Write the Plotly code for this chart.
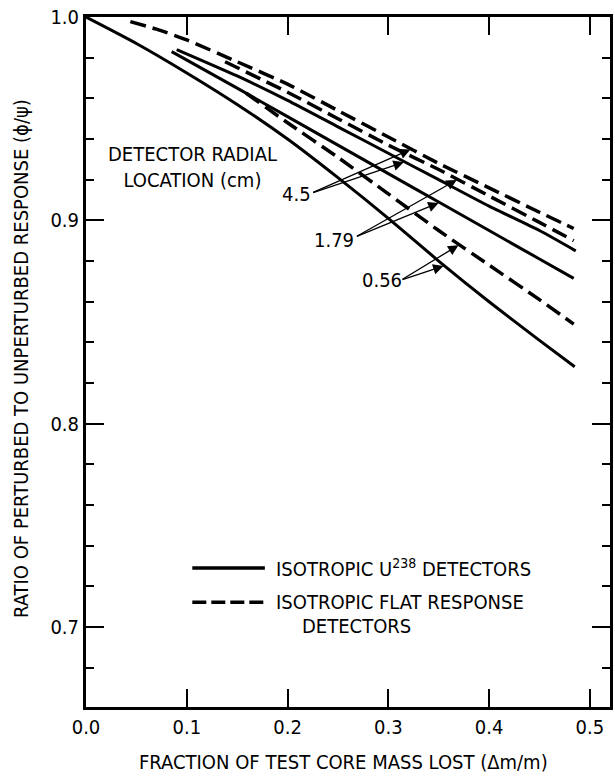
import numpy as np
import plotly.graph_objects as go

# ---------------- data ----------------
# Isotropic U238 detectors (solid lines), detector radial location in cm
x_u238_056 = [0.0, 0.05, 0.10, 0.15, 0.20, 0.25, 0.30, 0.35, 0.40, 0.45, 0.485]
y_u238_056 = [1.0, 0.987, 0.9725, 0.957, 0.940, 0.921, 0.901, 0.880, 0.860, 0.841, 0.828]
x_u238_179 = [0.085, 0.15, 0.20, 0.25, 0.30, 0.35, 0.40, 0.45, 0.484]
y_u238_179 = [0.983, 0.965, 0.951, 0.937, 0.923, 0.909, 0.895, 0.881, 0.8715]
x_u238_45 = [0.09, 0.15, 0.20, 0.25, 0.30, 0.35, 0.40, 0.45, 0.486]
y_u238_45 = [0.984, 0.971, 0.959, 0.946, 0.933, 0.920, 0.907, 0.895, 0.885]
# Isotropic flat response detectors (dashed lines)
x_flat_056 = [0.159, 0.20, 0.25, 0.30, 0.35, 0.40, 0.45, 0.484]
y_flat_056 = [0.9625, 0.948, 0.931, 0.913, 0.895, 0.878, 0.861, 0.849]
x_flat_179 = [0.138, 0.20, 0.25, 0.30, 0.35, 0.40, 0.45, 0.484]
y_flat_179 = [0.978, 0.963, 0.950, 0.937, 0.925, 0.912, 0.899, 0.890]
x_flat_45 = [0.044, 0.07, 0.10, 0.15, 0.20, 0.25, 0.30, 0.35, 0.40, 0.45, 0.484]
y_flat_45 = [0.9977, 0.994, 0.9887, 0.978, 0.967, 0.954, 0.941, 0.928, 0.916, 0.904, 0.896]

y_ticks = [0.7, 0.8, 0.9, 1.0]
y_tick_text = ["0.7", "0.8", "0.9", "1.0"]

location_labels = ["4.5", "1.79", "0.56"]

FONT = "DejaVu Sans Condensed, Liberation Sans Narrow, sans-serif"
FS = 20
SOLID_W = 3
DASH_W = 3.5
DASH = "16px,7px"

fig = go.Figure()

solid_sets = [(x_u238_056, y_u238_056), (x_u238_179, y_u238_179), (x_u238_45, y_u238_45)]
flat_sets = [(x_flat_056, y_flat_056), (x_flat_179, y_flat_179), (x_flat_45, y_flat_45)]

for xs, ys in solid_sets:
    fig.add_trace(go.Scatter(x=xs, y=ys, mode="lines",
                             line=dict(color="black", width=SOLID_W, shape="spline", smoothing=0.6),
                             hoverinfo="skip"))
for xs, ys in flat_sets:
    fig.add_trace(go.Scatter(x=xs, y=ys, mode="lines",
                             line=dict(color="black", width=DASH_W, dash=DASH, shape="spline", smoothing=0.6),
                             hoverinfo="skip"))

annotations = []

# location labels with arrows pointing at the curves
label_pos = {"4.5": (0.2086, 0.9129), "1.79": (0.2465, 0.8903), "0.56": (0.2934, 0.8706)}
tail_pos = {"4.5": (0.2239, 0.9134), "1.79": (0.2673, 0.8918), "0.56": (0.3126, 0.8706)}
tip_x = {"4.5": (0.3228, 0.3163), "1.79": (0.3688, 0.3508), "0.56": (0.3705, 0.3557)}
curve_pair = {"4.5": ((x_flat_45, y_flat_45), (x_u238_45, y_u238_45)),
              "1.79": ((x_flat_179, y_flat_179), (x_u238_179, y_u238_179)),
              "0.56": ((x_flat_056, y_flat_056), (x_u238_056, y_u238_056))}

for lab in location_labels:
    lx, ly = label_pos[lab]
    annotations.append(dict(x=lx, y=ly, xref="x", yref="y", text=lab, showarrow=False,
                            font=dict(family=FONT, size=FS, color="black"),
                            xanchor="center", yanchor="middle"))
    tx, ty = tail_pos[lab]
    for (cx, cy), px in zip(curve_pair[lab], tip_x[lab]):
        py = float(np.interp(px, cx, cy))
        annotations.append(dict(x=px, y=py, xref="x", yref="y", ax=tx, ay=ty,
                                axref="x", ayref="y", text="", showarrow=True,
                                arrowhead=2, arrowsize=1.6, arrowwidth=1.3,
                                arrowcolor="black", standoff=1))

# "DETECTOR RADIAL LOCATION (cm)"
annotations.append(dict(x=0.1055, y=0.926, xref="x", yref="y",
                        text="DETECTOR RADIAL<br>LOCATION (cm)", showarrow=False, align="center",
                        font=dict(family=FONT, size=FS, color="black"),
                        xanchor="center", yanchor="middle"))

# legend (manual, to reproduce the long line samples)
shapes = [
    dict(type="line", xref="x", yref="y", x0=0.1055, x1=0.1775, y0=0.729, y1=0.729,
         line=dict(color="black", width=SOLID_W + 0.5)),
    dict(type="line", xref="x", yref="y", x0=0.1055, x1=0.1775, y0=0.7122, y1=0.7122,
         line=dict(color="black", width=SOLID_W + 0.5, dash="14px,5px")),
]
annotations.append(dict(x=0.1864, y=0.729, xref="x", yref="y",
                        text="ISOTROPIC U<sup>238</sup> DETECTORS", showarrow=False,
                        font=dict(family=FONT, size=FS, color="black"),
                        xanchor="left", yanchor="middle"))
annotations.append(dict(x=0.1864, y=0.7122, xref="x", yref="y",
                        text="ISOTROPIC FLAT RESPONSE", showarrow=False,
                        font=dict(family=FONT, size=FS, color="black"),
                        xanchor="left", yanchor="middle"))
annotations.append(dict(x=0.212, y=0.7004, xref="x", yref="y",
                        text="DETECTORS", showarrow=False,
                        font=dict(family=FONT, size=FS, color="black"),
                        xanchor="left", yanchor="middle"))

# axis titles
annotations.append(dict(x=0.4915, y=-0.0797, xref="paper", yref="paper",
                        text="FRACTION OF TEST CORE MASS LOST (\u0394m/m)", showarrow=False,
                        font=dict(family=FONT, size=FS, color="black"),
                        xanchor="center", yanchor="middle"))
annotations.append(dict(x=-0.1252, y=0.505, xref="paper", yref="paper",
                        text="RATIO OF PERTURBED TO UNPERTURBED RESPONSE (\u03d5/\u03c8)", showarrow=False,
                        textangle=-90,
                        font=dict(family=FONT, size=FS, color="black"),
                        xanchor="center", yanchor="middle"))

fig.update_layout(
    width=615, height=777,
    margin=dict(l=86, r=2, t=17, b=70),
    plot_bgcolor="white", paper_bgcolor="white",
    showlegend=False,
    font=dict(family=FONT, size=FS, color="black"),
    annotations=annotations,
    shapes=shapes,
)
fig.update_xaxes(range=[0, 0.52], tickmode="linear", tick0=0, dtick=0.1, tickformat=".1f",
                 ticks="inside", ticklen=18, tickwidth=2, tickcolor="black",
                 showline=True, linewidth=3, linecolor="black", mirror="ticks",
                 showgrid=False, zeroline=False,
                 tickfont=dict(family=FONT, size=FS, color="black"))
fig.update_yaxes(range=[0.6607, 1.0], tickvals=y_ticks, ticktext=y_tick_text,
                 ticks="inside", ticklen=18, tickwidth=2, tickcolor="black",
                 showline=True, linewidth=3, linecolor="black", mirror="ticks",
                 showgrid=False, zeroline=False,
                 tickfont=dict(family=FONT, size=FS, color="black"),
                 minor=dict(tick0=0.7, dtick=0.02, ticks="inside", ticklen=8,
                            tickwidth=2, tickcolor="black", showgrid=False))

fig.write_html("out.html")
